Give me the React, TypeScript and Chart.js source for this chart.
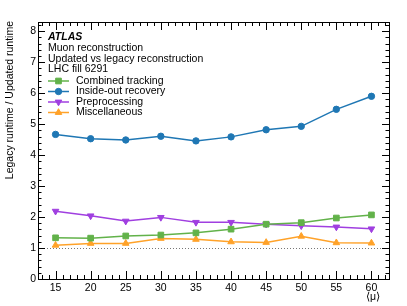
import React, { useEffect, useRef } from "react";
import { Chart, registerables } from "chart.js";

Chart.register(...registerables);

const muValues = [15, 20, 25, 30, 35, 40, 45, 50, 55, 60];
const combinedTracking = [1.33, 1.32, 1.39, 1.42, 1.49, 1.61, 1.77, 1.82, 1.97, 2.07];
const insideOutRecovery = [4.67, 4.53, 4.49, 4.61, 4.46, 4.59, 4.82, 4.93, 5.48, 5.9];
const preprocessing = [2.19, 2.04, 1.87, 1.99, 1.83, 1.83, 1.77, 1.72, 1.68, 1.62];
const miscellaneous = [1.09, 1.15, 1.15, 1.31, 1.28, 1.2, 1.18, 1.38, 1.17, 1.16];

const xTickValues = [15, 20, 25, 30, 35, 40, 45, 50, 55, 60];
const yTickValues = [0, 1, 2, 3, 4, 5, 6, 7, 8];

const seriesNames = ["Combined tracking", "Inside-out recovery", "Preprocessing", "Miscellaneous"];
const infoLines = ["Muon reconstruction", "Updated vs legacy reconstruction", "LHC fill 6291"];

const FONT = '"Liberation Sans", Arial, Helvetica, sans-serif';
const FS = 10.5;

const COLORS = ["#62b24a", "#1f77b4", "#a03fe0", "#ffa229"];
const STYLES = [
  { pointStyle: "rect", rotation: 0, radius: 4 },
  { pointStyle: "circle", rotation: 0, radius: 3.2 },
  { pointStyle: "triangle", rotation: 180, radius: 3.8 },
  { pointStyle: "triangle", rotation: 0, radius: 3.8 },
];

function drawMarker(ctx: CanvasRenderingContext2D, style: string, rotation: number, r: number, x: number, y: number, color: string) {
  ctx.save();
  ctx.fillStyle = color;
  ctx.strokeStyle = color;
  ctx.lineWidth = 1;
  ctx.beginPath();
  if (style === "rect") {
    const s = Math.SQRT1_2 * r;
    ctx.rect(x - s, y - s, 2 * s, 2 * s);
  } else if (style === "circle") {
    ctx.arc(x, y, r, 0, Math.PI * 2);
  } else {
    const rad = (rotation * Math.PI) / 180;
    for (let i = 0; i < 3; i++) {
      const a = rad - Math.PI / 2 + (i * 2 * Math.PI) / 3;
      const px = x + Math.cos(a) * r;
      const py = y + Math.sin(a) * r;
      if (i === 0) ctx.moveTo(px, py);
      else ctx.lineTo(px, py);
    }
    ctx.closePath();
  }
  ctx.fill();
  ctx.stroke();
  ctx.restore();
}

const atlasPlugin = {
  id: "atlasDecor",
  beforeDatasetsDraw(chart: any) {
    const ctx = chart.ctx as CanvasRenderingContext2D;
    const { left, right } = chart.chartArea;
    const y = Math.round(chart.scales.y.getPixelForValue(1)) + 0.5;
    ctx.save();
    ctx.strokeStyle = "#777";
    ctx.lineWidth = 1;
    ctx.setLineDash([1, 2]);
    ctx.beginPath();
    ctx.moveTo(left, y);
    ctx.lineTo(right, y);
    ctx.stroke();
    ctx.restore();
  },
  afterDraw(chart: any) {
    const ctx = chart.ctx as CanvasRenderingContext2D;
    const { left, right, top, bottom } = chart.chartArea;
    const xs = chart.scales.x;
    const ys = chart.scales.y;
    ctx.save();
    ctx.strokeStyle = "#000";
    ctx.lineWidth = 1;
    ctx.strokeRect(Math.round(left) + 0.5, Math.round(top) + 0.5, Math.round(right - left), Math.round(bottom - top));
    ctx.beginPath();
    for (let v = 13; v <= 62; v++) {
      const px = Math.round(xs.getPixelForValue(v)) + 0.5;
      const len = v % 5 === 0 ? 8 : 4;
      ctx.moveTo(px, bottom);
      ctx.lineTo(px, bottom - len);
      ctx.moveTo(px, top);
      ctx.lineTo(px, top + len);
    }
    for (let i = 0; i <= 41; i++) {
      const v = i / 5;
      const py = Math.round(ys.getPixelForValue(v)) + 0.5;
      const len = i % 5 === 0 ? 7 : 3.5;
      ctx.moveTo(left, py);
      ctx.lineTo(left + len, py);
      ctx.moveTo(right, py);
      ctx.lineTo(right - len, py);
    }
    ctx.stroke();

    // texts
    ctx.fillStyle = "#000";
    ctx.textBaseline = "middle";
    ctx.textAlign = "left";
    ctx.font = `italic bold ${FS}px ${FONT}`;
    ctx.fillText("ATLAS", 48, 37);
    ctx.font = `${FS}px ${FONT}`;
    infoLines.forEach((t, i) => ctx.fillText(t, 48, 48 + i * 10.7));

    // legend
    seriesNames.forEach((name, i) => {
      const y = 81 + i * 10.5;
      ctx.strokeStyle = COLORS[i];
      ctx.lineWidth = 1.5;
      ctx.beginPath();
      ctx.moveTo(48, y);
      ctx.lineTo(69, y);
      ctx.stroke();
      drawMarker(ctx, STYLES[i].pointStyle, STYLES[i].rotation, STYLES[i].radius, 58.5, y, COLORS[i]);
      ctx.fillStyle = "#000";
      ctx.fillText(name, 76, y);
    });

    // axis titles
    ctx.font = `${FS}px ${FONT}`;
    ctx.textAlign = "center";
    ctx.textBaseline = "middle";
    ctx.fillText("\u27E8\u03BC\u27E9", 373, 297);

    ctx.save();
    ctx.translate(10, top - 1);
    ctx.rotate(-Math.PI / 2);
    ctx.textAlign = "right";
    ctx.textBaseline = "middle";
    ctx.fillText("Legacy runtime / Updated runtime", 0, 0);
    ctx.restore();
    ctx.restore();
  },
};

export default function App() {
  const canvasRef = useRef<HTMLCanvasElement | null>(null);

  useEffect(() => {
    if (!canvasRef.current) return;
    const series = [combinedTracking, insideOutRecovery, preprocessing, miscellaneous];
    const datasets = series.map((vals, i) => ({
      label: seriesNames[i],
      data: vals.map((v, j) => ({ x: muValues[j], y: v })),
      borderColor: COLORS[i],
      backgroundColor: COLORS[i],
      borderWidth: 1.5,
      pointStyle: STYLES[i].pointStyle,
      rotation: STYLES[i].rotation,
      pointRadius: STYLES[i].radius,
      pointBorderWidth: 1,
      tension: 0,
    }));
    const chart = new Chart(canvasRef.current, {
      type: "line",
      data: { datasets: datasets as any },
      options: {
        animation: false,
        responsive: false,
        layout: { padding: { left: 0, top: 22, right: 18, bottom: 0 } },
        plugins: { legend: { display: false }, tooltip: { enabled: false } },
        scales: {
          x: {
            type: "linear",
            min: 12.5,
            max: 62.5,
            grid: { display: false, drawTicks: false },
            border: { display: false },
            afterBuildTicks: (s: any) => {
              s.ticks = xTickValues.map((v) => ({ value: v }));
            },
            afterFit: (s: any) => {
              s.height = 27;
            },
            ticks: { padding: 3, color: "#000", font: { family: FONT, size: FS }, maxRotation: 0, autoSkip: false },
          },
          y: {
            type: "linear",
            min: 0,
            max: 8.3,
            grid: { display: false, drawTicks: false },
            border: { display: false },
            afterBuildTicks: (s: any) => {
              s.ticks = yTickValues.map((v) => ({ value: v }));
            },
            afterFit: (s: any) => {
              s.width = 38;
            },
            ticks: { padding: 2, color: "#000", font: { family: FONT, size: FS }, autoSkip: false },
          },
        },
      },
      plugins: [atlasPlugin],
    });
    return () => chart.destroy();
  }, []);

  return (
    <div style={{ position: "absolute", left: 0, top: 0, width: 407, height: 306, background: "#fff" }}>
      <canvas ref={canvasRef} width={407} height={306} style={{ display: "block", width: 407, height: 306 }} />
    </div>
  );
}
